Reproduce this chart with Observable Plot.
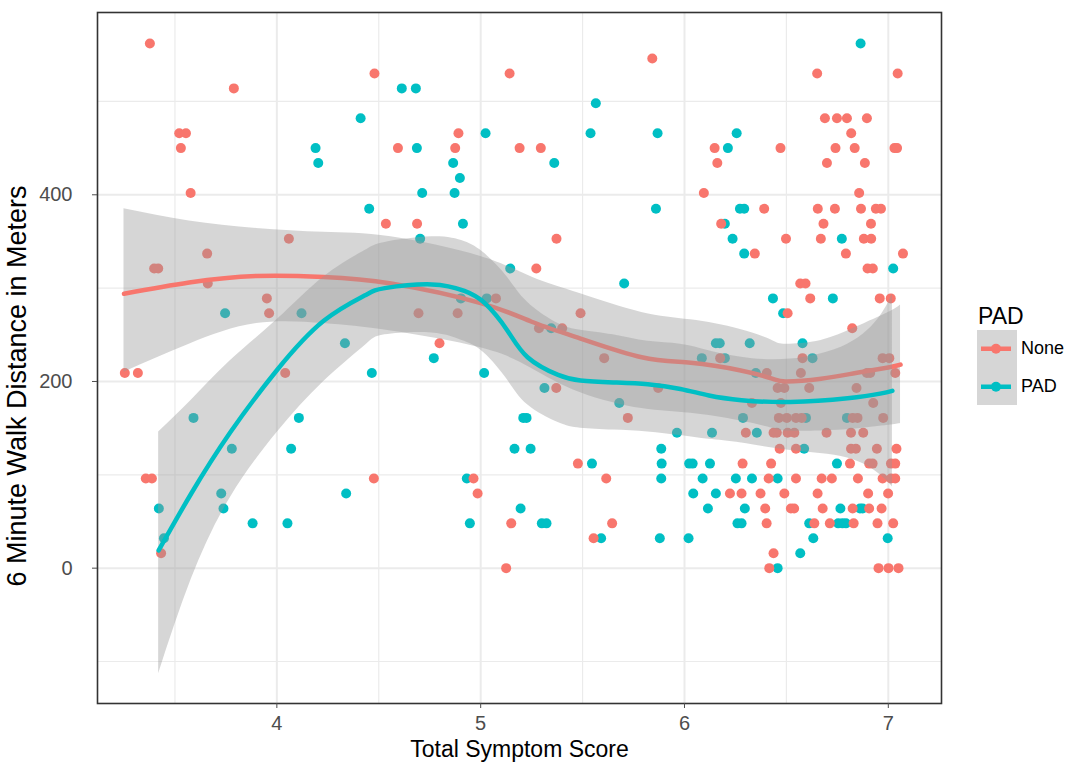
<!DOCTYPE html>
<html>
<head>
<meta charset="utf-8">
<script src="https://cdn.jsdelivr.net/npm/d3@7"></script>
<script src="https://cdn.jsdelivr.net/npm/@observablehq/plot@0.6"></script>
<style>
  html, body { margin: 0; padding: 0; background: #fff; }
  #wrap { position: relative; width: 1067px; height: 762px; font-family: "Liberation Sans", Arial, sans-serif; }
  #legend { position: absolute; left: 977px; top: 302px; color: #000; }
  #legend .title { font-size: 23px; line-height: 28px; margin-left: 1px; }
  #legend .row { display: flex; align-items: center; height: 37.5px; }
  #legend .key { width: 40px; height: 37.5px; background: #d6d6d6; }
  #legend .lab { font-size: 18px; margin-left: 4px; }
</style>
</head>
<body>
<div id="wrap"></div>
<script>
// ---- data ----
const noneScore = [
  3.377,4.479,3.789,3.521,3.554,3.529,3.577,4.059,3.658,3.398,3.418,3.661,3.951,3.962,3.254,3.318,4.041,3.357,3.387,4.476,3.432,
  5.142,4.891,4.594,4.875,5.191,5.295,4.535,4.688,5.372,5.273,5.075,4.695,4.887,5.490,5.286,5.400,4.798,5.606,5.371,5.722,5.477,4.965,5.616,4.985,5.150,5.645,5.554,5.125,
  5.842,6.651,7.046,
  6.689,6.748,6.797,6.895,
  6.818,
  6.148,6.471,6.741,6.835,7.030,7.043,
  6.161,6.699,6.885,
  6.095,6.857,
  6.391,6.654,6.738,6.866,6.939,6.964,
  6.180,6.682,6.915,
  6.498,6.669,6.880,6.916,
  6.345,6.792,7.072,
  6.898,6.924,
  6.568,6.594,
  6.617,6.958,7.012,
  6.506,
  6.823,
  6.175,6.579,6.972,7.005,
  6.404,6.571,6.895,6.911,7.034,
  5.871,6.457,6.490,6.612,6.844,
  6.331,6.473,6.926,
  6.463,6.502,6.547,6.575,6.825,6.849,6.975,
  6.301,6.437,6.453,6.506,6.539,6.697,6.817,6.877,
  6.467,6.547,6.817,6.841,6.944,7.040,
  6.285,6.425,6.812,6.906,6.923,7.013,7.034,
  6.413,6.547,6.673,6.723,6.851,6.972,7.013,7.034,
  6.223,6.280,6.373,6.490,6.653,6.901,6.999,
  6.396,6.522,6.538,6.678,6.825,6.906,6.967,
  6.403,6.637,6.713,6.830,6.947,7.024,
  6.437,
  6.416,6.952,7.001,7.050
];
const noneWalk = [
  562,530,514,466,466,450,402,353,337,321,321,305,289,273,209,209,209,96,96,96,16,
  530,466,450,450,450,450,369,369,353,321,289,273,273,273,257,257,241,225,193,161,112,96,96,80,48,48,32,0,
  546,530,530,
  482,482,482,482,
  466,
  450,450,450,450,450,450,
  434,434,434,
  402,402,
  385,385,385,385,385,385,
  369,369,369,
  353,353,353,353,
  337,337,337,
  321,321,
  305,305,
  289,289,289,
  273,
  257,
  225,225,225,225,
  209,209,209,209,209,
  193,193,193,193,193,
  177,177,177,
  161,161,161,161,161,161,161,
  145,145,145,145,145,145,145,145,
  128,128,128,128,128,128,
  112,112,112,112,112,112,112,
  96,96,96,96,96,96,96,96,
  80,80,80,80,80,80,80,
  64,64,64,64,64,64,64,
  48,48,48,48,48,48,
  16,
  0,0,0,0
];
const padScore = [
  4.411,4.190,4.203,4.453,3.746,4.121,4.334,4.466,3.591,4.108,3.779,4.070,3.727,4.340,3.421,3.738,3.881,4.052,3.446,
  4.613,4.682,5.565,5.024,5.539,4.687,4.865,5.361,4.898,4.713,4.872,4.913,4.703,5.145,5.704,4.903,5.030,5.346,4.770,5.017,5.313,5.680,5.209,5.225,5.166,5.245,5.546,4.932,5.196,4.947,5.300,5.323,5.591,
  6.864,5.868,6.256,6.213,5.860,6.272,6.293,6.198,6.236,6.772,6.293,7.024,6.434,6.728,6.484,6.154,6.173,6.320,6.579,6.085,6.198,6.628,6.350,
  6.287,6.596,6.797,5.963,6.135,6.355,5.886,6.587,5.888,6.023,6.040,6.125,6.748,5.886,6.089,6.252,6.331,6.457,6.043,6.154,
  6.115,6.296,6.765,6.861,6.874,6.260,6.280,6.612,6.754,6.775,6.792,5.879,6.020,6.632,6.997,6.568,6.457
];
const padWalk = [
  482,450,434,385,273,273,241,209,161,161,128,128,80,80,64,64,48,48,32,
  514,514,498,466,466,450,434,434,418,402,402,369,353,321,305,289,289,257,225,209,193,177,161,161,128,128,112,96,64,48,48,48,32,
  562,466,466,450,385,385,385,369,353,353,337,321,289,289,273,241,241,241,241,225,225,225,209,
  161,161,161,145,145,145,128,128,112,112,112,112,112,96,96,96,96,96,80,80,
  64,64,64,64,64,48,48,48,48,48,48,32,32,32,32,16,0
];

// smoothed curves with confidence bands
const noneFitScore = [3.25,3.57,3.90,4.23,4.56,5.00,5.25,5.49,5.79,6.03,6.27,6.43,6.50,6.67,6.84,7.00,7.06];
const noneFit      = [294, 306, 313, 312, 305, 284, 264, 246, 226, 220, 212, 203, 200, 203, 209, 215, 218];
const noneLow      = [210, 240, 262, 262, 254, 236, 214, 188, 171, 166, 158, 150, 147, 147, 149, 153, 155];
const noneHigh     = [385, 372, 364, 360, 355, 334, 312, 294, 274, 266, 256, 244, 240, 244, 258, 274, 282];

const padFitScore = [3.42,3.58,3.77,4.00,4.23,4.43,4.53,4.76,4.92,5.02,5.13,5.23,5.38,5.49,5.65,5.82,5.98,6.12,6.28,6.52,6.80,6.96,7.02];
const padFit      = [19,  80,  145, 212, 265, 292, 300, 304, 297, 284, 255, 226, 207, 201, 199, 197, 192, 185, 180, 178, 182, 187, 190];
const padLow      = [-113,-12, 75,  145, 200, 238, 250, 252, 243, 230, 202, 175, 156, 150, 148, 146, 142, 138, 134, 126, 118, 100, 87];
const padHigh     = [146, 180, 222, 266, 312, 340, 349, 355, 350, 337, 312, 285, 262, 255, 250, 243, 240, 233, 226, 224, 240, 270, 294];

const groups = ["None", "PAD"];
const groupColors = ["#F8766D", "#00BFC4"];

const xMajor = [4, 5, 6, 7];
const xMinor = [3.5, 4.5, 5.5, 6.5];
const yMajor = [0, 200, 400];
const yMinor = [-100, 100, 300, 500];

// ---- tables built from arrays ----
const pts = [
  ...padScore.map((s, i) => ({score: s, walk: padWalk[i], group: "PAD"})),
  ...noneScore.map((s, i) => ({score: s, walk: noneWalk[i], group: "None"}))
];
const noneFitRows = noneFitScore.map((s, i) => ({score: s, fit: noneFit[i], lo: noneLow[i], hi: noneHigh[i]}));
const padFitRows = padFitScore.map((s, i) => ({score: s, fit: padFit[i], lo: padLow[i], hi: padHigh[i]}));

const font = '"Liberation Sans", Arial, sans-serif';

const chart = Plot.plot({
  width: 1067,
  height: 762,
  marginLeft: 97,
  marginRight: 126,
  marginTop: 12,
  marginBottom: 59,
  style: {fontFamily: font, background: "transparent", overflow: "visible"},
  x: {domain: [3.120, 7.261]},
  y: {domain: [-145, 595.3]},
  color: {domain: groups, range: groupColors},
  marks: [
    Plot.ruleX(xMinor, {stroke: "#EBEBEB", strokeWidth: 1.2}),
    Plot.ruleY(yMinor, {stroke: "#EBEBEB", strokeWidth: 1.2}),
    Plot.ruleX(xMajor, {stroke: "#EBEBEB", strokeWidth: 2}),
    Plot.ruleY(yMajor, {stroke: "#EBEBEB", strokeWidth: 2}),
    Plot.dot(pts, {x: "score", y: "walk", fill: "group", r: 5, stroke: null}),
    Plot.areaY(noneFitRows, {x: "score", y1: "lo", y2: "hi", fill: "#999999", fillOpacity: 0.4, curve: "natural"}),
    Plot.line(noneFitRows, {x: "score", y: "fit", stroke: groupColors[0], strokeWidth: 4.5, curve: "natural"}),
    Plot.areaY(padFitRows, {x: "score", y1: "lo", y2: "hi", fill: "#999999", fillOpacity: 0.4, curve: "natural"}),
    Plot.line(padFitRows, {x: "score", y: "fit", stroke: groupColors[1], strokeWidth: 4.5, curve: "natural"}),
    Plot.frame({stroke: "#333333", strokeWidth: 1.6}),
    Plot.axisX(xMajor, {label: null, tickSize: 5, tickPadding: 7, fontSize: 20, color: "#4D4D4D", tickFormat: d => String(d)}),
    Plot.axisY(yMajor, {label: null, tickSize: 5, tickPadding: 20, fontSize: 20, color: "#4D4D4D", tickFormat: d => String(d)}),
    Plot.text(["Total Symptom Score"], {frameAnchor: "bottom", dy: 53, fontSize: 23, fill: "#000", lineAnchor: "bottom"}),
    Plot.text(["6 Minute Walk Distance in Meters"], {frameAnchor: "left", textAnchor: "middle", dx: -80, dy: 28, rotate: -90, fontSize: 27, fill: "#000"})
  ]
});

const wrap = document.getElementById("wrap");
wrap.appendChild(chart);

// legend
const legend = document.createElement("div");
legend.id = "legend";
let html = '<div class="title">PAD</div>';
groups.forEach((g, i) => {
  html += '<div class="row"><svg class="key" width="40" height="37.5">' +
    '<rect width="40" height="37.5" fill="#d6d6d6"></rect>' +
    '<line x1="4" x2="34" y1="18.75" y2="18.75" stroke="' + groupColors[i] + '" stroke-width="4.5"></line>' +
    '<circle cx="19" cy="18.75" r="5" fill="' + groupColors[i] + '"></circle>' +
    '</svg><span class="lab">' + g + '</span></div>';
});
legend.innerHTML = html;
wrap.appendChild(legend);
</script>
</body>
</html>
